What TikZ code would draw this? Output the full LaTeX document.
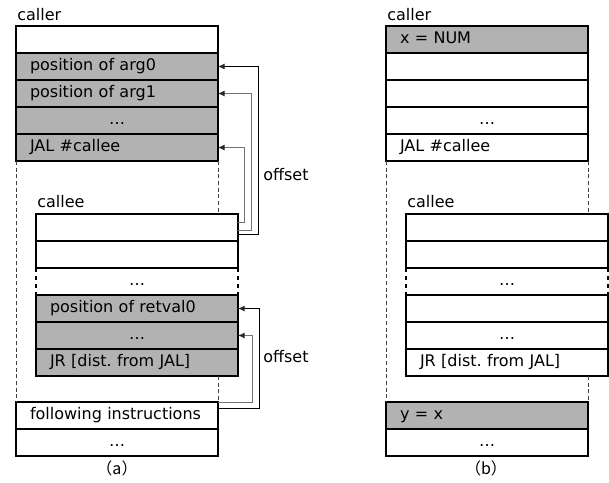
\documentclass[tikz,border=0pt]{standalone}
\usepackage{fontspec}
\setmainfont{DejaVu Sans}
\newfontfamily\cjk{Noto Sans CJK JP}
\usepackage{xcolor}
\usepackage{tikz}
\usetikzlibrary{arrows, arrows.meta, positioning, calc}
\definecolor{cellshade}{gray}{0.7}
\frenchspacing

\begin{document}
\begin{tikzpicture}[x=0.75pt, y=-0.75pt,
    font=\fontsize{12}{14}\selectfont,
    cell/.style={rectangle, draw, line width=1.4pt, outer sep=0pt, inner sep=0pt,
        minimum width=151.5pt, minimum height=20.25pt, text width=130.5pt,
        text height=9pt, text depth=2.5pt, align=left},
    shaded/.style={cell, fill=cellshade},
    dotcell/.style={cell, align=center},
    tag/.style={inner sep=0pt, anchor=west},
    guide/.style={draw=black!75, line width=0.6pt, dash pattern=on 3pt off 2pt},
    sidedash/.style={line width=1.4pt, dash pattern=on 3pt off 3pt},
    offarrow/.style={-{Latex[length=5pt,width=4.5pt,color=black!85]}, line width=0.75pt}]
    \useasboundingbox (0,0) rectangle (609,482);

    % (a) caller
    \node[tag] (lcallera) at (17,15) {caller};
    \node[cell, anchor=north west] (a0) at (16,26) {};
    \node[shaded, below=0pt of a0] (a1) {position of arg0};
    \node[shaded, below=0pt of a1] (a2) {position of arg1};
    \node[shaded, dotcell, below=0pt of a2] (a3) {…};
    \node[shaded, below=0pt of a3] (a4) {JAL \#callee};

    % (a) callee
    \node[tag] (lcalleea) at (37,202) {callee};
    \node[cell, anchor=north west] (c1) at (36,214) {};
    \node[cell, below=0pt of c1] (c2) {};
    \node[dotcell, draw=none, below=0pt of c2] (c3) {…};
    \node[shaded, below=0pt of c3] (c4) {position of retval0};
    \node[shaded, dotcell, below=0pt of c4] (c5) {…};
    \node[shaded, below=0pt of c5] (c6) {JR [dist. from JAL]};
    \draw[sidedash] (c3.north west) -- (c3.south west);
    \draw[sidedash] (c3.north east) -- (c3.south east);

    % (a) back in caller
    \node[cell, anchor=north west] (f1) at (16,402) {following instructions};
    \node[dotcell, below=0pt of f1] (f2) {…};
    \node (capa) at (117,468) {\cjk （a）};

    \draw[guide] (a4.south west) -- (f1.north west);
    \draw[guide] (a4.south east) -- (a4.south east |- c1.north);
    \draw[guide] (c6.south -| a4.east) -- (f1.north east);

    % offsets
    \draw[offarrow, black!55] ([yshift=3.4pt]c1.east) -- ++(6,0) |- (a4.east);
    \draw[offarrow, black!55] ([yshift=-1.9pt]c1.east) -- ++(13,0) |- (a2.east);
    \draw[offarrow] ([yshift=-5.6pt]c1.east) -- ++(20,0) |- (a1.east);
    \node[tag] (offa) at (263,175) {offset};
    \draw[offarrow, black!55] (f1.north east) -- ++(34,0) |- (c5.east);
    \draw[offarrow] ([yshift=-4.5pt]f1.north east) -- ++(41,0) |- (c4.east);
    \node[tag] (offb) at (263,357) {offset};

    % (b) caller
    \node[tag] (lcallerb) at (387,15) {caller};
    \node[shaded, anchor=north west] (b0) at (386,26) {x = NUM};
    \node[cell, below=0pt of b0] (b1) {};
    \node[cell, below=0pt of b1] (b2) {};
    \node[dotcell, below=0pt of b2] (b3) {…};
    \node[cell, below=0pt of b3] (b4) {JAL \#callee};

    % (b) callee
    \node[tag] (lcalleeb) at (407,202) {callee};
    \node[cell, anchor=north west] (d1) at (406,214) {};
    \node[cell, below=0pt of d1] (d2) {};
    \node[dotcell, draw=none, below=0pt of d2] (d3) {…};
    \node[cell, below=0pt of d3] (d4) {};
    \node[dotcell, below=0pt of d4] (d5) {…};
    \node[cell, below=0pt of d5] (d6) {JR [dist. from JAL]};
    \draw[sidedash] (d3.north west) -- (d3.south west);
    \draw[sidedash] (d3.north east) -- (d3.south east);

    % (b) back in caller
    \node[shaded, anchor=north west] (g1) at (386,402) {y = x};
    \node[dotcell, below=0pt of g1] (g2) {…};
    \node (capb) at (486,468) {\cjk （b）};

    \draw[guide] (b4.south west) -- (g1.north west);
    \draw[guide] (b4.south east) -- (b4.south east |- d1.north);
    \draw[guide] (d6.south -| b4.east) -- (g1.north east);
\end{tikzpicture}
\end{document}
